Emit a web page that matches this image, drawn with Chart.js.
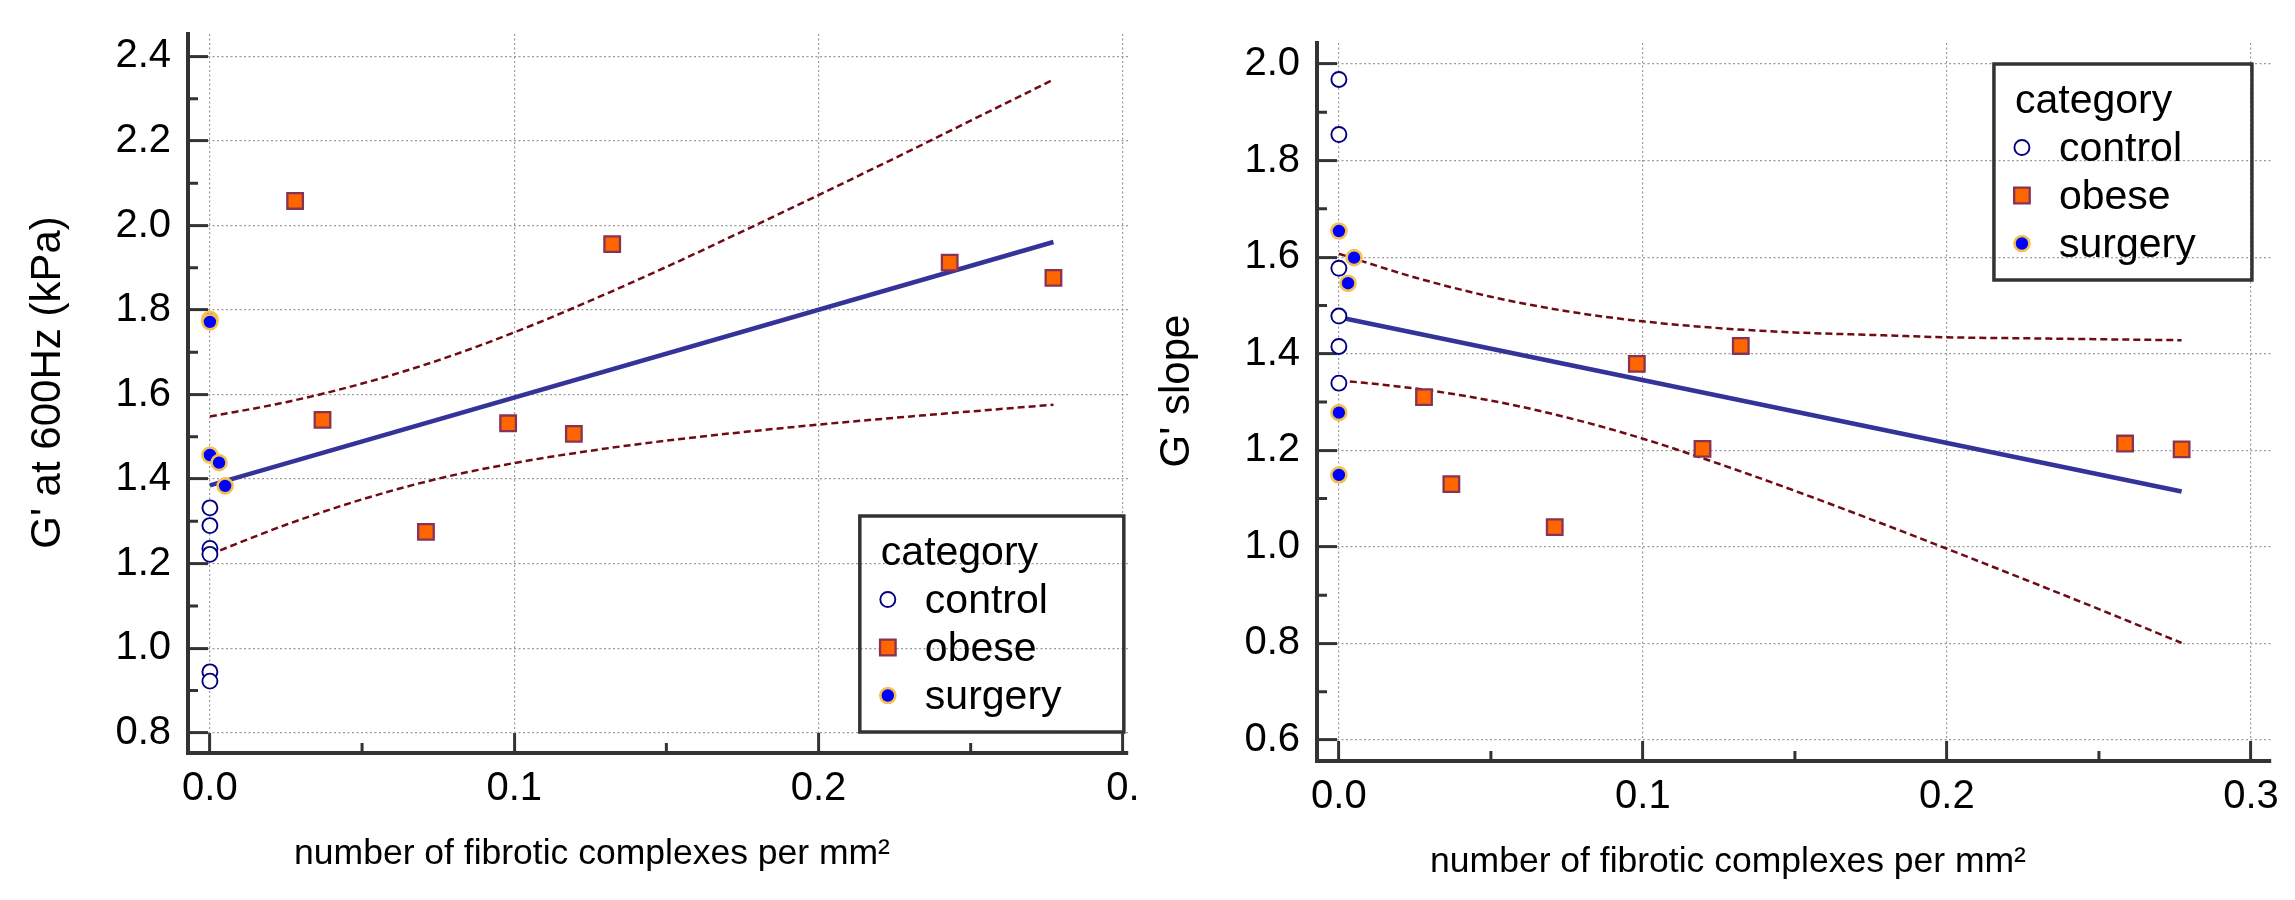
<!DOCTYPE html>
<html>
<head>
<meta charset="utf-8">
<title>G' vs fibrotic complexes</title>
<script src="https://cdn.jsdelivr.net/npm/chart.js@4.4.1/dist/chart.umd.min.js"></script>
<style>
    html, body { margin: 0; padding: 0; background: #fff; }
    #wrap { position: relative; width: 2295px; height: 900px; }
    canvas { position: absolute; top: 0; }
    #chart-1 { left: 0; }
    #chart-2 { left: 1147px; }
</style>
</head>
<body>
<div id="wrap">
    <canvas id="chart-1" width="1147" height="900"></canvas>
    <canvas id="chart-2" width="1148" height="900"></canvas>
</div>
<script>
// values
const categories = ['control', 'obese', 'surgery'];

const controlX = [0, 0, 0, 0, 0, 0];
const surgeryX = [0, 0, 0, 0.003, 0.005];
const stiffObeseX = [0.028, 0.037, 0.071, 0.098, 0.1196, 0.1322, 0.2431, 0.2772];
const slopeObeseX = [0.028, 0.037, 0.071, 0.098, 0.1196, 0.1322, 0.2586, 0.2772];

// left panel: G' at 600Hz (kPa)
const stiffControl = [1.332, 1.290, 1.236, 1.222, 0.944, 0.922];
const stiffSurgery = [1.778, 1.772, 1.457, 1.439, 1.384];
const stiffObese = [2.058, 1.540, 1.275, 1.532, 1.507, 1.956, 1.912, 1.876];

// right panel: G' slope
const slopeControl = [1.968, 1.854, 1.577, 1.478, 1.415, 1.339];
const slopeSurgery = [1.654, 1.278, 1.149, 1.546, 1.599];
const slopeObese = [1.310, 1.130, 1.041, 1.379, 1.203, 1.416, 1.214, 1.202];

// regression lines and confidence bands
const fitX = [0, 0.2772];
const stiffFit = [1.385, 1.961];
const slopeFit = [1.4755, 1.1146];

const ciX = [0, 0.025, 0.05, 0.075, 0.1, 0.125, 0.15, 0.175, 0.2, 0.225, 0.25, 0.2772];
const stiffUpper = [1.548, 1.582, 1.626, 1.681, 1.747, 1.822, 1.902, 1.986, 2.072, 2.159, 2.248, 2.345];
const stiffLower = [1.222, 1.292, 1.352, 1.401, 1.438, 1.467, 1.491, 1.511, 1.529, 1.545, 1.560, 1.576];
const slopeUpper = [1.607, 1.558, 1.518, 1.488, 1.467, 1.453, 1.444, 1.439, 1.434, 1.432, 1.430, 1.428];
const slopeLower = [1.345, 1.328, 1.303, 1.268, 1.224, 1.172, 1.116, 1.057, 0.996, 0.934, 0.871, 0.801];

// ticks
const xTicks = [0, 0.1, 0.2, 0.3];
const xMinor = [0.05, 0.15, 0.25];
const xLabelsLeft = ['0.0', '0.1', '0.2', '0.'];
const xLabelsRight = ['0.0', '0.1', '0.2', '0.3'];
const stiffTicks = [0.8, 1.0, 1.2, 1.4, 1.6, 1.8, 2.0, 2.2, 2.4];
const stiffMinor = [0.9, 1.1, 1.3, 1.5, 1.7, 1.9, 2.1, 2.3];
const slopeTicks = [0.6, 0.8, 1.0, 1.2, 1.4, 1.6, 1.8, 2.0];
const slopeMinor = [0.7, 0.9, 1.1, 1.3, 1.5, 1.7, 1.9];

const FONT = "'Liberation Sans', Arial, Helvetica, sans-serif";
const AXIS = '#333333';

const pts = (xs, ys) => xs.map((x, i) => ({ x, y: ys[i] }));

// small tick marks between the labelled ones
const minorTicks = {
    id: 'minorTicks',
    beforeDatasetsDraw(chart, args, opts) {
        const { ctx, chartArea: a, scales: { x, y } } = chart;
        ctx.save();
        ctx.strokeStyle = AXIS;
        ctx.lineWidth = 3;
        ctx.beginPath();
        opts.x.forEach((v) => {
            const px = x.getPixelForValue(v);
            ctx.moveTo(px, a.bottom);
            ctx.lineTo(px, a.bottom - 10);
        });
        opts.y.forEach((v) => {
            const py = y.getPixelForValue(v);
            ctx.moveTo(a.left, py);
            ctx.lineTo(a.left + 10, py);
        });
        ctx.stroke();
        ctx.restore();
    },
};

const axisTitles = {
    id: 'axisTitles',
    afterDraw(chart, args, opts) {
        const { ctx, chartArea: a } = chart;
        ctx.save();
        ctx.fillStyle = '#000';
        ctx.textAlign = 'center';
        ctx.textBaseline = 'alphabetic';
        ctx.font = `35.5px ${FONT}`;
        ctx.fillText(opts.xText, (a.left + a.right) / 2 - 66, a.bottom + 111);
        ctx.translate(opts.yX, (a.top + a.bottom) / 2 + opts.yShift);
        ctx.rotate(-Math.PI / 2);
        ctx.font = `42px ${FONT}`;
        ctx.fillText(opts.yText, 0, 0);
        ctx.restore();
    },
};

function drawMarker(ctx, ds, cx, cy) {
    ctx.save();
    ctx.fillStyle = ds.backgroundColor;
    ctx.strokeStyle = ds.borderColor;
    ctx.lineWidth = ds.borderWidth;
    ctx.beginPath();
    if (ds.pointStyle === 'rect') {
        const s = ds.pointRadius * Math.SQRT1_2;
        ctx.rect(cx - s, cy - s, 2 * s, 2 * s);
    } else {
        ctx.arc(cx, cy, ds.pointRadius, 0, Math.PI * 2);
    }
    ctx.fill();
    ctx.stroke();
    ctx.restore();
}

// boxed legend with a title, as in the original
const boxLegend = {
    id: 'boxLegend',
    afterDraw(chart, args, opts) {
        const { ctx, chartArea: a } = chart;
        const w = opts.width;
        const h = 216;
        const right = chart.scales.x.getPixelForValue(0.3) + 1;
        const left = right - w;
        const top = opts.anchor === 'top' ? a.top + 21 : a.bottom - 21 - h;

        ctx.save();
        ctx.strokeStyle = AXIS;
        ctx.lineWidth = 3.5;
        ctx.strokeRect(left, top, w, h);

        ctx.fillStyle = '#000';
        ctx.font = `41px ${FONT}`;
        ctx.textAlign = 'left';
        ctx.textBaseline = 'alphabetic';
        ctx.fillText('category', left + 21, top + 49);
        categories.forEach((name, i) => {
            const base = top + 97 + i * 48;
            drawMarker(ctx, chart.data.datasets[i], left + 28, base - 13.5);
            ctx.fillText(name, left + 65, base);
        });
        ctx.restore();
    },
};

function buildChart(canvas, cfg) {
    const tickFont = { family: FONT, size: 40 };
    const grid = {
        color: '#9a9a9a',
        lineWidth: 1.2,
        tickLength: -20,
        tickColor: AXIS,
        tickWidth: 3,
    };
    const border = { display: true, color: AXIS, width: 4, dash: [2, 2.5] };
    const dashed = {
        showLine: true,
        pointRadius: 0,
        borderColor: '#6e0b14',
        borderWidth: 2.5,
        borderDash: [7, 4],
        cubicInterpolationMode: 'monotone',
    };

    return new Chart(canvas, {
        type: 'scatter',
        data: {
            datasets: [
                {
                    label: categories[0],
                    data: pts(controlX, cfg.control),
                    pointStyle: 'circle',
                    pointRadius: 7.5,
                    backgroundColor: '#ffffff',
                    borderColor: '#000080',
                    borderWidth: 1.9,
                },
                {
                    label: categories[1],
                    data: pts(cfg.obeseX, cfg.obese),
                    pointStyle: 'rect',
                    pointRadius: 11,
                    backgroundColor: '#ff6600',
                    borderColor: '#883355',
                    borderWidth: 2.3,
                },
                {
                    label: categories[2],
                    data: pts(surgeryX, cfg.surgery),
                    pointStyle: 'circle',
                    pointRadius: 7.5,
                    backgroundColor: '#0000ff',
                    borderColor: '#f2c14e',
                    borderWidth: 2.6,
                },
                {
                    label: 'fit',
                    data: pts(fitX, cfg.fit),
                    showLine: true,
                    pointRadius: 0,
                    borderColor: '#333399',
                    borderWidth: 4.5,
                },
                { label: 'upper', data: pts(ciX, cfg.upper), ...dashed },
                { label: 'lower', data: pts(ciX, cfg.lower), ...dashed },
            ],
        },
        options: {
            responsive: false,
            animation: false,
            devicePixelRatio: 1,
            events: [],
            layout: { padding: { left: 0, right: cfg.padRight, top: cfg.padTop, bottom: 0 } },
            plugins: {
                legend: { display: false },
                tooltip: { enabled: false },
                minorTicks: { x: xMinor, y: cfg.yMinor },
                axisTitles: { xText: 'number of fibrotic complexes per mm²', yText: cfg.yTitle, yX: cfg.yTitleX, yShift: -11 },
                boxLegend: { anchor: cfg.legendAnchor, width: cfg.legendWidth },
            },
            scales: {
                x: {
                    type: 'linear',
                    bounds: 'data',
                    min: -0.0072,
                    max: cfg.xMax,
                    afterBuildTicks: (s) => { s.ticks = xTicks.map((value) => ({ value })); },
                    afterFit: (s) => {
                        s.height = cfg.xAxisHeight;
                        s.paddingLeft = 0;
                        s.paddingRight = 0;
                    },
                    ticks: {
                        callback: (v, i) => cfg.xLabels[i],
                        font: tickFont,
                        color: '#000',
                        padding: 32,
                        maxRotation: 0,
                        minRotation: 0,
                        autoSkip: false,
                    },
                    grid,
                    border,
                },
                y: {
                    type: 'linear',
                    bounds: 'data',
                    min: cfg.yMin,
                    max: cfg.yMax,
                    afterBuildTicks: (s) => { s.ticks = cfg.yTicks.map((value) => ({ value })); },
                    afterFit: (s) => {
                        s.width = cfg.yAxisWidth;
                        s.paddingTop = 0;
                        s.paddingBottom = 0;
                    },
                    ticks: {
                        callback: (v) => v.toFixed(1),
                        font: tickFont,
                        color: '#000',
                        padding: 37,
                        autoSkip: false,
                    },
                    grid,
                    border,
                },
            },
        },
        plugins: [minorTicks, axisTitles, boxLegend],
    });
}

document.addEventListener('DOMContentLoaded', () => {
    buildChart(document.getElementById('chart-1'), {
        control: stiffControl,
        obese: stiffObese,
        obeseX: stiffObeseX,
        surgery: stiffSurgery,
        fit: stiffFit,
        upper: stiffUpper,
        lower: stiffLower,
        yTicks: stiffTicks,
        yMinor: stiffMinor,
        xLabels: xLabelsLeft,
        yMin: 0.752,
        yMax: 2.453,
        xMax: 0.3017,
        padTop: 34,
        padRight: 19,
        yAxisWidth: 188,
        xAxisHeight: 147,
        yTitle: "G' at 600Hz (kPa)",
        yTitleX: 60,
        legendAnchor: 'bottom',
        legendWidth: 264,
    });

    buildChart(document.getElementById('chart-2'), {
        control: slopeControl,
        obese: slopeObese,
        obeseX: slopeObeseX,
        surgery: slopeSurgery,
        fit: slopeFit,
        upper: slopeUpper,
        lower: slopeLower,
        yTicks: slopeTicks,
        yMinor: slopeMinor,
        xLabels: xLabelsRight,
        yMin: 0.5565,
        yMax: 2.0435,
        xMax: 0.3066,
        padTop: 43,
        padRight: 24,
        yAxisWidth: 170,
        xAxisHeight: 139,
        yTitle: "G' slope",
        yTitleX: 42,
        legendAnchor: 'top',
        legendWidth: 258,
    });
});
</script>
</body>
</html>
